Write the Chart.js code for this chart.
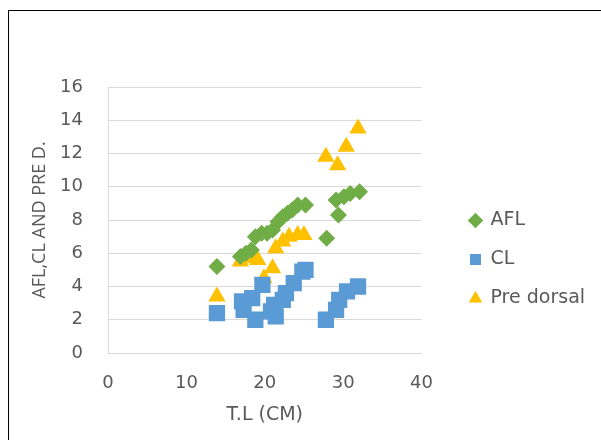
<!DOCTYPE html>
<html>
<head>
<meta charset="utf-8">
<script src="https://cdn.jsdelivr.net/npm/chart.js@4"></script>
<style>
    html, body { margin: 0; padding: 0; background: #fff; overflow: hidden; }
    #wrap { position: relative; width: 601px; height: 440px; }
    #marco { position: absolute; left: 8px; top: 10px; width: 700px; height: 600px; border: 1px solid #000; box-sizing: border-box; }
    canvas { position: absolute; left: 0; top: 0; }
</style>
</head>
<body>
<div id="wrap">
    <div id="marco"></div>
    <canvas id="grafico" width="601" height="440"></canvas>
</div>
<script>
// Datos
const aflX = [13.9, 16.9, 17.6, 18.3, 18.8, 19.6, 20.3, 21.0, 21.7, 22.3, 22.9, 23.5, 24.2, 25.2, 27.9, 29.4, 29.1, 30.1, 30.9, 32.1];
const aflY = [5.2, 5.8, 6.0, 6.2, 7.0, 7.2, 7.2, 7.4, 7.9, 8.2, 8.4, 8.6, 8.9, 8.9, 6.9, 8.3, 9.2, 9.4, 9.6, 9.7];

const clX = [13.9, 17.1, 17.3, 18.4, 18.8, 19.7, 20.8, 21.2, 21.4, 22.3, 22.7, 23.7, 24.8, 25.2, 27.8, 29.1, 29.5, 30.5, 31.9];
const clY = [2.4, 3.1, 2.6, 3.3, 2.0, 4.1, 2.5, 2.9, 2.2, 3.2, 3.6, 4.2, 4.9, 5.0, 2.0, 2.6, 3.2, 3.7, 4.0];

const preX = [13.9, 16.9, 17.8, 18.4, 19.1, 19.9, 21.0, 21.4, 22.3, 23.1, 24.2, 25.0, 27.8, 29.3, 30.4, 31.9];
const preY = [3.4, 5.5, 5.7, 6.0, 5.6, 4.5, 5.1, 6.3, 6.7, 7.0, 7.1, 7.1, 11.8, 11.3, 12.4, 13.5];

const xTicks = [0, 10, 20, 30, 40];
const yTicks = [0, 2, 4, 6, 8, 10, 12, 14, 16];

const fuente = "'DejaVu Sans', sans-serif";
const gris = '#595959';

function puntos(xs, ys) {
    return xs.map((x, i) => ({ x: x, y: ys[i] }));
}

// mueve la leyenda a su sitio (en Excel queda separada del área)
const moverLeyenda = {
    id: 'moverLeyenda',
    afterLayout(chart) {
        const l = chart.legend;
        l.left = 450;
        l.right = l.left + l.width;
        l.top = 191;
        l.bottom = 440;
    }
};

const ctx = document.getElementById('grafico').getContext('2d');
new Chart(ctx, {
    type: 'scatter',
    data: {
        datasets: [
            {
                label: 'AFL',
                data: puntos(aflX, aflY),
                pointStyle: 'rectRot',
                pointRadius: 8.5,
                pointHoverRadius: 8.5,
                backgroundColor: '#70AD47',
                borderColor: '#70AD47',
                borderWidth: 0
            },
            {
                label: 'CL',
                data: puntos(clX, clY),
                pointStyle: 'rect',
                pointRadius: 11.5,
                pointHoverRadius: 11.5,
                backgroundColor: '#5B9BD5',
                borderColor: '#5B9BD5',
                borderWidth: 0
            },
            {
                label: 'Pre dorsal',
                data: puntos(preX, preY),
                pointStyle: 'triangle',
                pointRadius: 10,
                pointHoverRadius: 10,
                backgroundColor: '#FFC000',
                borderColor: '#FFC000',
                borderWidth: 0
            }
        ]
    },
    options: {
        responsive: false,
        animation: false,
        layout: { padding: { top: 87, right: 39, bottom: 0, left: 0 } },
        plugins: {
            legend: {
                position: 'right',
                align: 'start',
                labels: {
                    usePointStyle: true,
                    boxWidth: 11,
                    boxHeight: 11,
                    padding: 20,
                    color: gris,
                    font: { family: fuente, size: 19 }
                }
            },
            tooltip: { enabled: false }
        },
        scales: {
            x: {
                type: 'linear',
                min: 0,
                max: 40,
                afterBuildTicks: (scale) => { scale.ticks = xTicks.map(v => ({ value: v })); },
                afterFit: (scale) => { scale.height = 87; },
                grid: { display: false, drawTicks: false },
                border: { display: true, color: '#D9D9D9', width: 1 },
                ticks: { color: gris, padding: 20, font: { family: fuente, size: 18 } },
                title: {
                    display: true,
                    text: 'T.L (CM)',
                    color: gris,
                    font: { family: fuente, size: 19 },
                    padding: { top: 0, bottom: 14 }
                }
            },
            y: {
                type: 'linear',
                min: 0,
                max: 16,
                afterBuildTicks: (scale) => { scale.ticks = yTicks.map(v => ({ value: v })); },
                afterFit: (scale) => { scale.width = 108; },
                grid: { color: '#D9D9D9', drawTicks: false },
                border: { display: true, color: '#D9D9D9', width: 1 },
                ticks: { color: gris, padding: 25, font: { family: fuente, size: 18 } },
                title: {
                    display: true,
                    text: 'AFL,CL AND PRE D.',
                    color: gris,
                    font: { family: "'Open Sans', sans-serif", size: 18 },
                    padding: { top: 29, bottom: 0 }
                }
            }
        }
    },
    plugins: [moverLeyenda]
});
</script>
</body>
</html>
